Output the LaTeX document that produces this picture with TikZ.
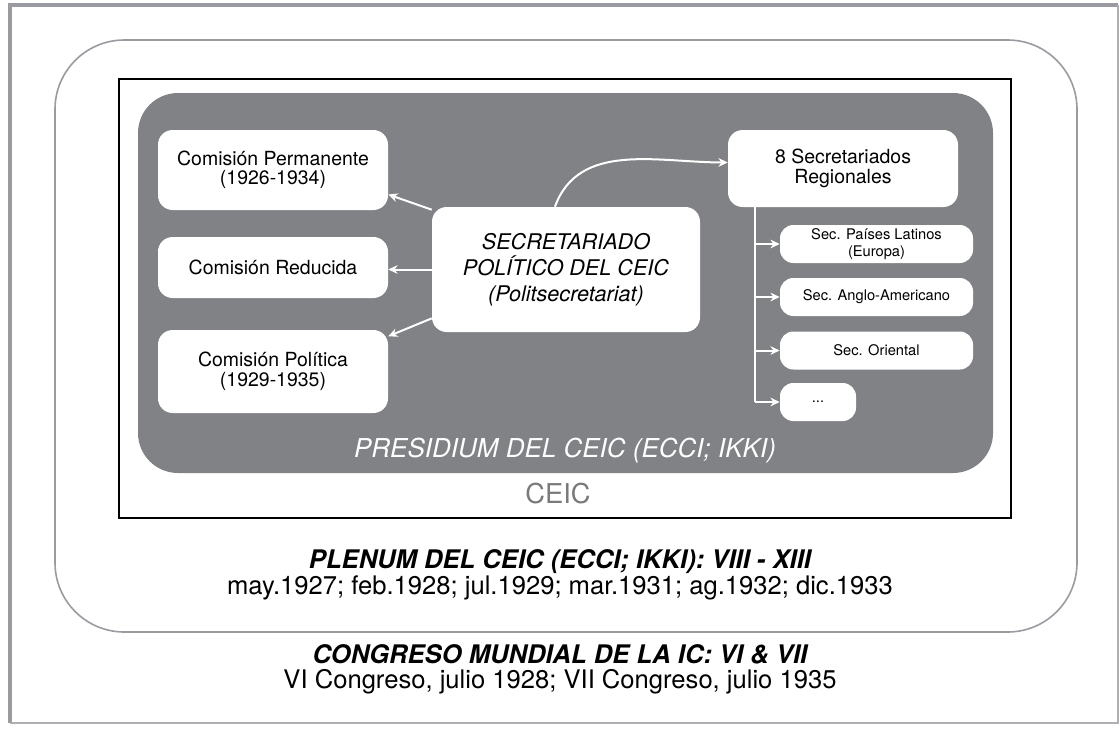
\documentclass[tikz,border=0pt]{standalone}
\usepackage{fontspec}
\setmainfont{TeX Gyre Heros}
\usetikzlibrary{arrows.meta}

\definecolor{presgray}{HTML}{808286}
\definecolor{framegray}{HTML}{9A9BA0}
\definecolor{ceicgray}{HTML}{7A7A7A}

\tikzset{
    box/.style={fill=white, rounded corners=11pt, align=center, inner sep=0pt,
        font=\fontsize{14.6}{14.6}\selectfont, minimum width=172.5pt},
    subbox/.style={fill=white, rounded corners=10pt, align=center, inner sep=0pt,
        font=\fontsize{11}{12.6}\selectfont, minimum width=144.75pt, minimum height=28.5pt},
    warrow/.style={draw=white, line width=1.5pt, -{Stealth[length=7pt,width=6.5pt]}},
    wline/.style={draw=white, line width=1.5pt},
    bigtext/.style={anchor=base, font=\fontsize{19.2}{22}\selectfont},
}

\begin{document}
\begin{tikzpicture}[x=0.75pt, y=-0.75pt]
        \useasboundingbox (0,0) rectangle (1120,729);

        \draw[framegray, line width=3pt] (10,723) -- (10,5) -- (1118,5);
        \draw[framegray!80, line width=1pt] (1118,5) -- (1118,723) -- (10,723);

        \draw[framegray, line width=1.2pt, rounded corners=52pt] (55,40) rectangle (1077,632);
        \draw[black, line width=1.2pt] (119,79) rectangle (1011,518);
        \fill[presgray, rounded corners=30pt] (138,93) rectangle (993,473);

        \node[box, minimum height=60pt] (perm) at (273,170) {Comisión Permanente\\(1926-1934)};
        \node[box, minimum height=45.75pt] (red) at (273,267.5) {Comisión Reducida};
        \node[box, minimum height=62.25pt] (pol) at (273,371.5) {Comisión Política\\(1929-1935)};

        \node[box, minimum width=201pt, minimum height=93.75pt, font=\fontsize{16.2}{19.5}\selectfont\itshape]
            (sec) at (566,269.5) {SECRETARIADO\\POLÍTICO DEL CEIC\\(Politsecretariat)};

        \node[box, minimum height=57.75pt] (reg) at (843,168.5) {8 Secretariados\\Regionales};

        \node[subbox] (lat) at (876.5,244) {Sec. Países Latinos\\(Europa)};
        \node[subbox] (ang) at (876.5,297) {Sec. Anglo-Americano};
        \node[subbox] (ori) at (876.5,350.5) {Sec. Oriental};
        \node[subbox, minimum width=57pt] (dots) at (818,402) {...};

        \draw[warrow] (sec.156) -- (perm.-12);
        \draw[warrow] (sec.west) -- (sec.west -| red.east);
        \draw[warrow] (sec.200) -- (pol.17);

        \draw[warrow] (sec.100) to[out=70, in=180] (reg.177);

        \coordinate (trunk) at (755,207);
        \draw[wline] (trunk) -- (trunk |- dots.west);
        \foreach \s in {lat, ang, ori, dots}
            \draw[warrow] (trunk |- \s.west) -- (\s.west);

        \node[anchor=base, white, font=\fontsize{19.5}{22}\selectfont\itshape] (pres) at (565,457) {PRESIDIUM DEL CEIC (ECCI; IKKI)};
        \node[anchor=base, ceicgray, font=\fontsize{20.5}{22}\selectfont] (ceic) at (558,503) {CEIC};

        \node[bigtext, font=\fontsize{19.2}{22}\selectfont\bfseries\itshape] (plenum) at (560,568) {PLENUM DEL CEIC (ECCI; IKKI): VIII - XIII};
        \node[bigtext] (plenumdates) at (560,594) {may.1927; feb.1928; jul.1929; mar.1931; ag.1932; dic.1933};

        \node[bigtext, font=\fontsize{19.2}{22}\selectfont\bfseries\itshape] (congreso) at (560,663) {CONGRESO MUNDIAL DE LA IC: VI \& VII};
        \node[bigtext] (congresodates) at (560,688) {VI Congreso, julio 1928; VII Congreso, julio 1935};

    \end{tikzpicture}
\end{document}
